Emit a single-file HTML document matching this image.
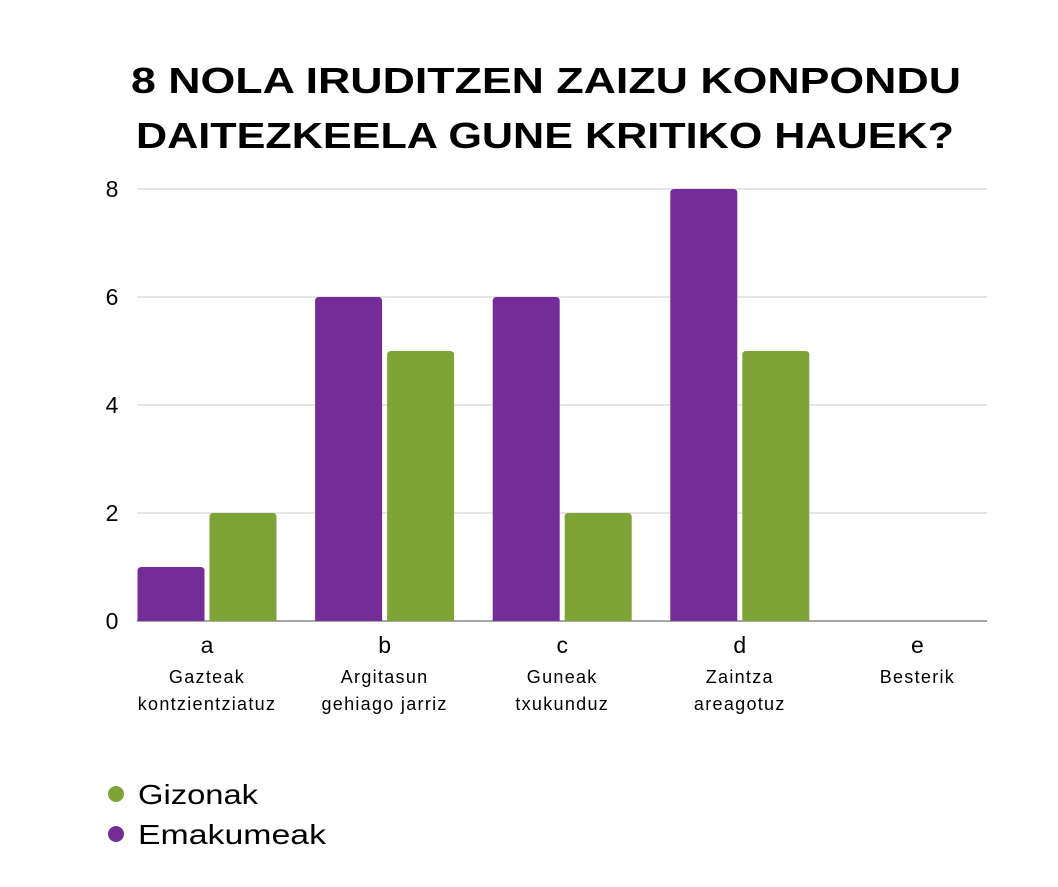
<!DOCTYPE html>
<html><head><meta charset="utf-8"><style>
body{margin:0;background:#fff;font-family:"Liberation Sans",sans-serif}
svg{display:block}
</style></head><body>
<svg width="1058" height="887" viewBox="0 0 1058 887">
<text x="546" y="93" text-anchor="middle" font-size="36" font-weight="bold" textLength="830" lengthAdjust="spacingAndGlyphs" fill="#000">8 NOLA IRUDITZEN ZAIZU KONPONDU</text>
<text x="545" y="148" text-anchor="middle" font-size="36" font-weight="bold" textLength="818" lengthAdjust="spacingAndGlyphs" fill="#000">DAITEZKEELA GUNE KRITIKO HAUEK?</text>
<g id="grid"></g><g id="bars"></g><g id="labels"></g>
<circle cx="116" cy="794" r="8" fill="#7ea336"/>
<text x="138" y="804" font-size="28" fill="#000" textLength="120" lengthAdjust="spacingAndGlyphs">Gizonak</text>
<circle cx="116" cy="834" r="8" fill="#742c98"/>
<text x="138" y="844" font-size="28" fill="#000" textLength="188" lengthAdjust="spacingAndGlyphs">Emakumeak</text>
</svg>
<script>
const categories=["a","b","c","d","e"];
const subLabels=[["Gazteak","kontzientziatuz"],["Argitasun","gehiago jarriz"],["Guneak","txukunduz"],["Zaintza","areagotuz"],["Besterik"]];
const emakumeak=[1,6,6,8,0];
const gizonak=[2,5,2,5,0];
const yTicks=[0,2,4,6,8];
const NS="http://www.w3.org/2000/svg";
const x0=137,x1=987,yBase=621,yTop=189,yMax=8;
const y=v=>yBase-(yBase-yTop)*v/yMax;
const cx=i=>207+i*177.6;
const bw=67,gap=5;
function mk(t,a,p){const e=document.createElementNS(NS,t);for(const k in a)e.setAttribute(k,a[k]);p.appendChild(e);return e;}
const g=document.getElementById('grid'),b=document.getElementById('bars'),l=document.getElementById('labels');
yTicks.forEach(t=>{
 const ln=mk('line',{x1:x0,x2:x1,y1:y(t),y2:y(t),stroke:t===0?'#888':'#ccc','stroke-width':t===0?1.5:1},g);
 
 
 const tx=mk('text',{x:112,y:y(t)+8,'text-anchor':'middle','font-size':23,fill:'#000'},g);
 tx.textContent=t;
 
 
});
function bar(x,v,c,name){
 if(v<=0)return;
 const r=4;
 const p=mk('path',{d:`M${x},${yBase}V${y(v)+r}Q${x},${y(v)} ${x+r},${y(v)}H${x+bw-r}Q${x+bw},${y(v)} ${x+bw},${y(v)+r}V${yBase}Z`,fill:c},b);
 
 
}
categories.forEach((c,i)=>{
 bar(cx(i)-gap/2-bw,emakumeak[i],'#742c98','bar-emakumeak-'+c);
 bar(cx(i)+gap/2,gizonak[i],'#7ea336','bar-gizonak-'+c);
 const t=mk('text',{x:cx(i),y:653,'text-anchor':'middle','font-size':23,fill:'#000'},l);
 t.textContent=c;
 
 
 subLabels[i].forEach((s,j)=>{
  const st=mk('text',{x:cx(i),y:683+j*27,'text-anchor':'middle','font-size':18,fill:'#000','letter-spacing':1.3},l);
  st.textContent=s;
  
  
 });
});
</script>
</body></html>
